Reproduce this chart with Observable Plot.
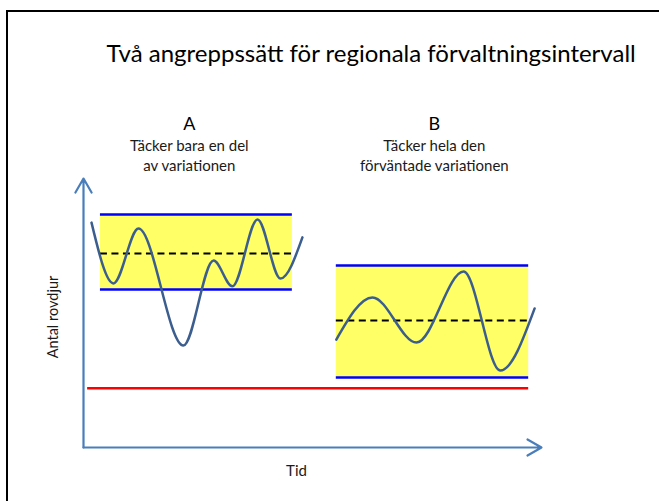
<!DOCTYPE html>
<html>
<head>
<meta charset="utf-8">
<script src="https://cdn.jsdelivr.net/npm/d3@7"></script>
<script src="https://cdn.jsdelivr.net/npm/@observablehq/plot@0.6"></script>
<style>
  html, body { margin: 0; padding: 0; background: #fff; overflow: hidden; }
  #wrap { position: relative; width: 659px; height: 501px; }
  #frame { position: absolute; left: 6px; top: 10px; width: 700px; height: 600px;
           border-left: 2.5px solid #000; border-top: 2.5px solid #000; pointer-events: none; }
  svg { display: block; }
</style>
</head>
<body>
<div id="wrap"><div id="frame"></div></div>
<script>
// ---- data (time on x, number of predators on y, arbitrary 0-100 units) ----
const intervalNames = ["A", "B"];
const intervalStart = [3.7, 55.2];
const intervalEnd   = [45.6, 97.2];
const intervalLower = [58.7, 26.0];
const intervalUpper = [86.6, 67.7];
const intervalTarget = [72.1, 47.2];

const timeA  = [1.75, 6.55, 12.0, 21.8, 28.4, 32.5, 38.0, 43.0, 47.8];
const countA = [83.6, 61.0, 81.4, 37.9, 69.5, 59.9, 84.8, 62.8, 78.1];
const timeB  = [55.2, 63.1, 72.7, 83.0, 91.0, 98.5];
const countB = [40.1, 55.8, 39.0, 65.4, 28.6, 51.7];

const minimumLevel = 22;
const minimumStart = 0.9;
const minimumEnd = 97.2;

const titleText = "Två angreppssätt för regionala förvaltningsintervall";
const headingText = ["A", "B"];
const headingX = [23.1, 76.6];
const subLine1 = ["Täcker bara en del", "Täcker hela den"];
const subLine2 = ["av variationen", "förväntade variationen"];
const xLabel = "Tid";
const yLabel = "Antal rovdjur";

// ---- tables built from the arrays ----
const intervals = intervalNames.map((n, i) => ({
  name: n, x1: intervalStart[i], x2: intervalEnd[i],
  lo: intervalLower[i], hi: intervalUpper[i], mid: intervalTarget[i]
}));
const bounds = intervals.flatMap(d => [{x1: d.x1, x2: d.x2, y: d.lo}, {x1: d.x1, x2: d.x2, y: d.hi}]);
const seriesA = timeA.map((t, i) => ({t, v: countA[i]}));
const seriesB = timeB.map((t, i) => ({t, v: countB[i]}));
const headings = headingText.map((h, i) => ({x: headingX[i], h, s1: subLine1[i], s2: subLine2[i]}));

const axisColor = "#4a7ebb";

const chart = Plot.plot({
  width: 659,
  height: 501,
  marginLeft: 83,
  marginRight: 118,
  marginTop: 178,
  marginBottom: 54,
  style: {fontFamily: "Lato, 'Open Sans', sans-serif", background: "transparent", overflow: "visible"},
  x: {domain: [0, 100], axis: null},
  y: {domain: [0, 100], axis: null},
  marks: [
    Plot.rect(intervals, {x1: "x1", x2: "x2", y1: "lo", y2: "hi", fill: "#ffff66"}),
    Plot.ruleY([minimumLevel], {x1: minimumStart, x2: minimumEnd, stroke: "#ff0000", strokeWidth: 2.5}),
    Plot.ruleY(intervals, {y: "mid", x1: "x1", x2: "x2", stroke: "#000", strokeWidth: 2, strokeDasharray: "7,4.5"}),
    Plot.ruleY(bounds, {y: "y", x1: "x1", x2: "x2", stroke: "#0000ff", strokeWidth: 2.5}),
    Plot.line(seriesA, {x: "t", y: "v", curve: "monotone-x", stroke: "#3c5e8e", strokeWidth: 2.5}),
    Plot.line(seriesB, {x: "t", y: "v", curve: "monotone-x", stroke: "#3c5e8e", strokeWidth: 2.5}),
    Plot.arrow([{x1: 0, y1: 0, x2: 0, y2: 100}, {x1: 0, y1: 0, x2: 100, y2: 0}],
      {x1: "x1", y1: "y1", x2: "x2", y2: "y2", stroke: axisColor, strokeWidth: 2.2, headLength: 11, headAngle: 60}),
    Plot.text([titleText], {x: 62.8, y: 146.0, text: d => d, fontSize: 24, fill: "#000"}),
    Plot.text(headings, {x: "x", y: 120.3, text: "h", fontSize: 18, fill: "#000"}),
    Plot.text(headings, {x: "x", y: 111.9, text: "s1", fontSize: 15, fill: "#1a1a1a"}),
    Plot.text(headings, {x: "x", y: 104.4, text: "s2", fontSize: 15, fill: "#1a1a1a"}),
    Plot.text([xLabel], {x: 46.5, y: -8.7, text: d => d, fontSize: 15, fill: "#1a1a1a"}),
    Plot.text([yLabel], {x: -6.5, y: 48.5, text: d => d, fontSize: 14.5, fill: "#1a1a1a", rotate: -90})
  ]
});
document.getElementById("wrap").prepend(chart);
</script>
</body>
</html>
